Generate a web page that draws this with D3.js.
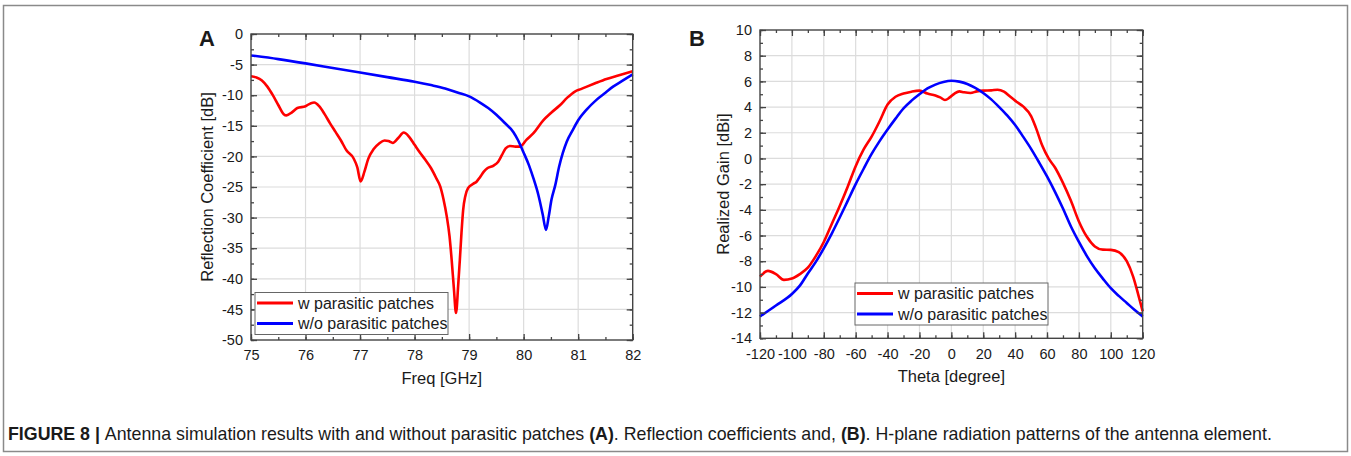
<!DOCTYPE html>
<html>
<head>
<meta charset="utf-8">
<script src="https://cdn.jsdelivr.net/npm/d3@7"></script>
<style>
  body { margin: 0; background: #fff; }
  svg text { font-family: "Liberation Sans", Arial, sans-serif; fill: #1a1a1a; }
</style>
</head>
<body>
<svg id="fig" width="1351" height="456"></svg>
<script>
// panel A: reflection coefficient vs frequency
var freqTicks = [75, 76, 77, 78, 79, 80, 81, 82];
var s11Ticks = [0, -5, -10, -15, -20, -25, -30, -35, -40, -45, -50];

var s11WithPatches = [
    [75.0, -6.9], [75.1, -7.1], [75.2, -7.6], [75.3, -8.6], [75.4, -10.0], [75.5, -11.6],
    [75.6, -13.1], [75.65, -13.3], [75.75, -12.8], [75.85, -12.1], [76.0, -11.8], [76.1, -11.3],
    [76.16, -11.2], [76.25, -11.8], [76.35, -13.1], [76.45, -14.6], [76.55, -16.0], [76.65, -17.4],
    [76.75, -19.0], [76.88, -20.3], [76.95, -21.8], [77.01, -24.1], [77.08, -22.5], [77.15, -20.4],
    [77.25, -18.8], [77.35, -17.9], [77.45, -17.4], [77.52, -17.5], [77.6, -17.8], [77.7, -17.0],
    [77.8, -16.1], [77.9, -16.8], [78.0, -18.1], [78.1, -19.4], [78.2, -20.6], [78.3, -21.9],
    [78.4, -23.6], [78.47, -24.9], [78.53, -27.0], [78.59, -29.8], [78.64, -33.0], [78.68, -36.9],
    [78.72, -41.5], [78.76, -45.6], [78.8, -41.0], [78.83, -36.9], [78.86, -32.5], [78.89, -28.8],
    [78.93, -26.5], [78.98, -25.2], [79.07, -24.5], [79.14, -24.1], [79.2, -23.4], [79.27, -22.5],
    [79.34, -21.9], [79.45, -21.5], [79.53, -20.9], [79.6, -19.8], [79.67, -18.7], [79.75, -18.3],
    [79.85, -18.4], [79.93, -18.4], [80.05, -17.3], [80.18, -16.2], [80.36, -14.1], [80.5, -12.9],
    [80.67, -11.6], [80.8, -10.4], [80.94, -9.4], [81.05, -9.0], [81.16, -8.6], [81.3, -8.1],
    [81.52, -7.35], [81.75, -6.75], [82.0, -6.1]
];

var s11WithoutPatches = [
    [75.0, -3.5], [75.5, -4.1], [76.0, -4.8], [76.5, -5.55], [77.0, -6.3], [77.5, -7.05],
    [78.0, -7.8], [78.3, -8.35], [78.56, -8.9], [78.8, -9.6], [79.0, -10.2], [79.2, -11.2],
    [79.35, -12.1], [79.5, -13.2], [79.65, -14.5], [79.81, -16.0], [79.9, -17.4], [79.99, -19.2],
    [80.1, -21.5], [80.18, -23.6], [80.27, -26.3], [80.35, -29.5], [80.41, -32.0], [80.46, -29.8],
    [80.51, -27.1], [80.58, -24.7], [80.65, -21.7], [80.72, -19.4], [80.79, -17.6], [80.9, -15.7],
    [81.0, -14.1], [81.15, -12.4], [81.33, -10.8], [81.5, -9.6], [81.64, -8.6], [81.8, -7.7],
    [82.0, -6.6]
];

// panel B: H-plane realized gain
var thetaTicks = [-120, -100, -80, -60, -40, -20, 0, 20, 40, 60, 80, 100, 120];
var gainTicks = [10, 8, 6, 4, 2, 0, -2, -4, -6, -8, -10, -12, -14];

var gainWithPatches = [
    [-120, -9.2], [-115, -8.75], [-110, -9.0], [-105, -9.45], [-100, -9.35], [-95, -9.0],
    [-90, -8.5], [-85, -7.6], [-80, -6.5], [-75, -5.1], [-70, -3.7], [-65, -2.2],
    [-60, -0.6], [-55, 0.7], [-50, 1.7], [-45, 2.9], [-40, 4.2], [-35, 4.8],
    [-30, 5.05], [-25, 5.2], [-20, 5.28], [-15, 5.05], [-10, 4.9], [-7, 4.75],
    [-4, 4.55], [-1, 4.75], [2, 5.05], [5, 5.22], [8, 5.15], [12, 5.1],
    [16, 5.22], [20, 5.28], [25, 5.3], [29, 5.35], [33, 5.2], [37, 4.8],
    [40, 4.5], [45, 4.05], [50, 3.3], [53, 2.4], [57, 1.0], [61, 0.0],
    [65, -0.7], [70, -1.9], [75, -3.3], [80, -4.9], [85, -6.1], [90, -6.85],
    [95, -7.1], [100, -7.12], [105, -7.3], [110, -8.0], [114, -9.2], [117, -10.5],
    [120, -11.9]
];

var gainWithoutPatches = [
    [-120, -12.3], [-110, -11.45], [-100, -10.55], [-95, -9.9], [-90, -8.95], [-85, -8.05],
    [-80, -7.0], [-75, -5.85], [-70, -4.6], [-65, -3.3], [-60, -2.0], [-55, -0.8],
    [-50, 0.35], [-45, 1.35], [-40, 2.25], [-35, 3.1], [-30, 3.9], [-25, 4.5],
    [-20, 5.0], [-15, 5.45], [-10, 5.75], [-5, 5.95], [0, 6.05], [5, 5.98],
    [10, 5.8], [15, 5.5], [20, 5.1], [25, 4.6], [30, 4.0], [35, 3.35],
    [40, 2.6], [45, 1.7], [50, 0.75], [55, -0.3], [60, -1.4], [65, -2.6],
    [70, -3.9], [75, -5.3], [80, -6.5], [85, -7.6], [90, -8.55], [95, -9.35],
    [100, -10.1], [105, -10.7], [110, -11.25], [115, -11.8], [120, -12.3]
];

var seriesNames = ["w parasitic patches", "w/o parasitic patches"];
var seriesColors = ["#ff0000", "#0000ff"];

var svg = d3.select("#fig");

// outer frame of the figure
svg.append("rect")
   .attr("x", 3.5).attr("y", 5.5)
   .attr("width", 1344).attr("height", 446)
   .attr("fill", "none")
   .attr("stroke", "#8a8a8a")
   .attr("stroke-width", 1.5);

// plain hyphen minus, no trailing .0
var plainFormat = d => String(d);

function drawPanel(p) {
    var x = d3.scaleLinear().domain(p.xDomain).range([p.left, p.right]);
    var y = d3.scaleLinear().domain(p.yDomain).range([p.bottom, p.top]);
    var g = svg.append("g");

    // grid at major ticks
    g.selectAll(".vgrid").data(p.xTicks.slice(1, -1)).enter().append("line")
     .attr("x1", d => x(d)).attr("x2", d => x(d))
     .attr("y1", p.top).attr("y2", p.bottom)
     .attr("stroke", "#dcdcdc").attr("stroke-width", 1.2);
    g.selectAll(".hgrid").data(p.yTicks.slice(1, -1)).enter().append("line")
     .attr("x1", p.left).attr("x2", p.right)
     .attr("y1", d => y(d)).attr("y2", d => y(d))
     .attr("stroke", "#dcdcdc").attr("stroke-width", 1.2);

    var line = d3.line()
                 .x(d => x(d[0]))
                 .y(d => y(d[1]))
                 .curve(d3.curveMonotoneX);

    p.series.forEach(function(s, i) {
        g.append("path")
         .datum(s)
         .attr("fill", "none")
         .attr("stroke", seriesColors[i])
         .attr("stroke-width", 2.6)
         .attr("stroke-linejoin", "round")
         .attr("d", line);
    });

    var xMinor = d3.range(p.xDomain[0], p.xDomain[1] + 1e-9, p.xMinor);
    var yMinor = d3.range(p.yDomain[0], p.yDomain[1] + 1e-9, p.yMinor);

    function styleAxis(sel) {
        sel.select(".domain").remove();
        sel.selectAll(".tick line").attr("stroke", "#444").attr("stroke-width", 1.3);
        sel.selectAll(".tick text").attr("font-size", "14.5px").attr("fill", "#1a1a1a");
    }

    // bottom and left with labels, ticks pointing inside
    g.append("g").attr("transform", `translate(0,${p.bottom})`)
     .call(d3.axisBottom(x).tickValues(xMinor).tickFormat("").tickSizeInner(-3).tickSizeOuter(0))
     .call(styleAxis);
    g.append("g").attr("transform", `translate(0,${p.bottom})`)
     .call(d3.axisBottom(x).tickValues(p.xTicks).tickFormat(plainFormat)
             .tickSizeInner(-6).tickSizeOuter(0).tickPadding(10))
     .call(styleAxis);
    g.append("g").attr("transform", `translate(${p.left},0)`)
     .call(d3.axisLeft(y).tickValues(yMinor).tickFormat("").tickSizeInner(-3).tickSizeOuter(0))
     .call(styleAxis);
    g.append("g").attr("transform", `translate(${p.left},0)`)
     .call(d3.axisLeft(y).tickValues(p.yTicks).tickFormat(plainFormat)
             .tickSizeInner(-6).tickSizeOuter(0).tickPadding(8))
     .call(styleAxis);

    // mirrored top and right
    g.append("g").attr("transform", `translate(0,${p.top})`)
     .call(d3.axisTop(x).tickValues(xMinor).tickFormat("").tickSizeInner(-3).tickSizeOuter(0))
     .call(styleAxis);
    g.append("g").attr("transform", `translate(0,${p.top})`)
     .call(d3.axisTop(x).tickValues(p.xTicks).tickFormat("").tickSizeInner(-6).tickSizeOuter(0))
     .call(styleAxis);
    g.append("g").attr("transform", `translate(${p.right},0)`)
     .call(d3.axisRight(y).tickValues(yMinor).tickFormat("").tickSizeInner(-3).tickSizeOuter(0))
     .call(styleAxis);
    g.append("g").attr("transform", `translate(${p.right},0)`)
     .call(d3.axisRight(y).tickValues(p.yTicks).tickFormat("").tickSizeInner(-6).tickSizeOuter(0))
     .call(styleAxis);

    g.append("rect")
     .attr("x", p.left).attr("y", p.top)
     .attr("width", p.right - p.left).attr("height", p.bottom - p.top)
     .attr("fill", "none").attr("stroke", "#444").attr("stroke-width", 1.4);

    // titles
    g.append("text")
     .attr("x", (p.left + p.right) / 2).attr("y", p.bottom + 44)
     .attr("text-anchor", "middle").attr("font-size", "16.5px")
     .text(p.xTitle);
    g.append("text")
     .attr("transform", `translate(${p.yTitleX},${(p.top + p.bottom) / 2}) rotate(-90)`)
     .attr("text-anchor", "middle").attr("font-size", "16.5px")
     .text(p.yTitle);
    g.append("text")
     .attr("x", p.labelX).attr("y", p.labelY)
     .attr("font-size", "22px").attr("font-weight", "bold")
     .text(p.label);

    // legend
    var lg = g.append("g").attr("transform", `translate(${p.legendX},${p.legendY})`);
    lg.append("rect")
      .attr("width", 193).attr("height", 42)
      .attr("fill", "#fff").attr("stroke", "#666").attr("stroke-width", 1);
    seriesNames.forEach(function(name, i) {
        lg.append("line")
          .attr("x1", 2).attr("x2", 38)
          .attr("y1", 10.5 + i * 20.5).attr("y2", 10.5 + i * 20.5)
          .attr("stroke", seriesColors[i]).attr("stroke-width", 2.8);
        lg.append("text")
          .attr("x", 43).attr("y", 10.5 + i * 20.5).attr("dy", "0.35em")
          .attr("font-size", "16px")
          .text(name);
    });
}

drawPanel({
    left: 251, right: 632.7, top: 34, bottom: 340,
    xDomain: [75, 82], yDomain: [-50, 0],
    xTicks: freqTicks, yTicks: s11Ticks, xMinor: 0.5, yMinor: 2.5,
    series: [s11WithPatches, s11WithoutPatches],
    xTitle: "Freq [GHz]", yTitle: "Reflection Coefficient [dB]", yTitleX: 213,
    label: "A", labelX: 199, labelY: 46,
    legendX: 255, legendY: 292.5
});

drawPanel({
    left: 760, right: 1142.7, top: 30, bottom: 338.3,
    xDomain: [-120, 120], yDomain: [-14, 10],
    xTicks: thetaTicks, yTicks: gainTicks, xMinor: 10, yMinor: 1,
    series: [gainWithPatches, gainWithoutPatches],
    xTitle: "Theta [degree]", yTitle: "Realized Gain [dBi]", yTitleX: 729,
    label: "B", labelX: 689, labelY: 46,
    legendX: 855, legendY: 283
});

// caption
var cap = svg.append("text").attr("x", 8).attr("y", 440).attr("font-size", "17.8px");
cap.append("tspan").attr("font-weight", "bold").text("FIGURE 8 | ");
cap.append("tspan").text("Antenna simulation results with and without parasitic patches ");
cap.append("tspan").attr("font-weight", "bold").text("(A)");
cap.append("tspan").text(". Reflection coefficients and, ");
cap.append("tspan").attr("font-weight", "bold").text("(B)");
cap.append("tspan").text(". H-plane radiation patterns of the antenna element.");
</script>
</body>
</html>
